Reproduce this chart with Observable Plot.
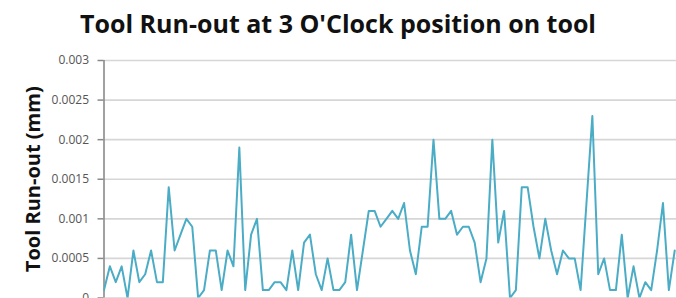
<!DOCTYPE html>
<html>
<head>
<meta charset="utf-8">
<script src="https://cdn.jsdelivr.net/npm/d3@7"></script>
<script src="https://cdn.jsdelivr.net/npm/@observablehq/plot@0.6"></script>
<style>
  html, body { margin: 0; padding: 0; background: #fff; overflow: hidden; width: 676px; height: 298px; }
  #title { position: absolute; left: 0; top: 0; width: 676px; height: 50px; }
  #title span { position: absolute; left: 338px; top: 6px; white-space: nowrap; font-family: "Open Sans", sans-serif; font-weight: 700; font-size: 25px; color: #111; transform-origin: 0 0; }
  #chart { position: absolute; left: 0; top: 50px; }
</style>
</head>
<body>
<div id="title"><span>Tool Run-out at 3 O'Clock position on tool</span></div>
<div id="chart"></div>
<script>
const titleText = "Tool Run-out at 3 O'Clock position on tool";
const yLabel = "Tool Run-out (mm)";
const yTicks = [0, 0.0005, 0.001, 0.0015, 0.002, 0.0025, 0.003];
const yTickLabels = ["0", "0.0005", "0.001", "0.0015", "0.002", "0.0025", "0.003"];
const runout = [
  0.0001, 0.0004, 0.0002, 0.0004, 0, 0.0006, 0.0002, 0.0003, 0.0006, 0.0002,
  0.0002, 0.0014, 0.0006, 0.0008, 0.001, 0.0009, 0, 0.0001, 0.0006, 0.0006,
  0.0001, 0.0006, 0.0004, 0.0019, 0.0001, 0.0008, 0.001, 0.0001, 0.0001, 0.0002,
  0.0002, 0.0001, 0.0006, 0.0001, 0.0007, 0.0008, 0.0003, 0.0001, 0.0005, 0.0001,
  0.0001, 0.0002, 0.0008, 0.0001, 0.0006, 0.0011, 0.0011, 0.0009, 0.001, 0.0011,
  0.001, 0.0012, 0.0006, 0.0003, 0.0009, 0.0009, 0.002, 0.001, 0.001, 0.0011,
  0.0008, 0.0009, 0.0009, 0.0007, 0.0002, 0.0005, 0.002, 0.0007, 0.0011, 0,
  0.0001, 0.0014, 0.0014, 0.0009, 0.0005, 0.001, 0.0006, 0.0003, 0.0006, 0.0005,
  0.0005, 0.0001, 0.0012, 0.0023, 0.0003, 0.0005, 0.0001, 0.0001, 0.0008, 0,
  0.0004, 0, 0.0002, 0.0001, 0.0006, 0.0012, 0.0001, 0.0006
];
const measurement = runout.map((_, i) => i);

const data = runout.map((v, i) => ({n: measurement[i], v}));

const chart = Plot.plot({
  width: 676,
  height: 287.5,
  marginLeft: 103.5,
  marginRight: 0,
  marginTop: 10,
  marginBottom: 40,
  style: {fontFamily: "'Open Sans', sans-serif", background: "transparent", overflow: "visible"},
  x: {domain: [0, 97.3], axis: null},
  y: {domain: [0, 0.003], axis: null},
  marks: [
    Plot.gridY(yTicks, {stroke: "#d6d6d6", strokeOpacity: 1, strokeWidth: 1.6}),
    Plot.axisY(yTicks, {tickSize: 6, tickPadding: 9, tickFormat: (d) => yTickLabels[yTicks.indexOf(d)], fontSize: 12, color: "#555", stroke: "#8a8a8a", strokeWidth: 1.5, label: null}),
    Plot.ruleX([0], {stroke: "#8a8a8a", strokeWidth: 1.6}),
    Plot.text([yLabel], {frameAnchor: "left", textAnchor: "middle", rotate: -90, dx: -70, fontSize: 20, fontWeight: "bold", fill: "#111"}),
    Plot.lineY(data, {x: "n", y: "v", stroke: "#4bacc6", strokeWidth: 2, clip: true})
  ]
});
document.getElementById("chart").appendChild(chart);

const span = document.querySelector("#title span");
const w = span.getBoundingClientRect().width;
const target = 516;
span.style.transform = `translateX(${-target/2}px) scaleX(${target / w})`;
</script>
</body>
</html>
